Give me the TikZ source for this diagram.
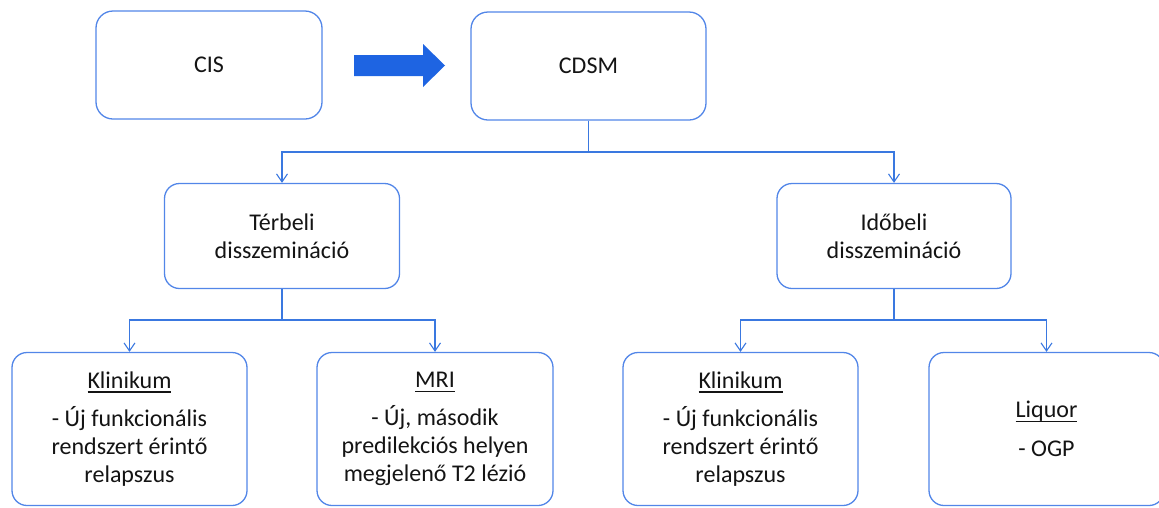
\documentclass[tikz,border=0pt]{standalone}
\usepackage{fontspec}
\setmainfont{Carlito}
\usetikzlibrary{arrows.meta}

\definecolor{boxline}{RGB}{82,134,232}
\definecolor{connline}{RGB}{58,120,224}
\definecolor{bigarrow}{RGB}{30,100,226}
\definecolor{txt}{RGB}{20,20,20}

% underline drawn at a fixed depth below the baseline
\newcommand\headul[1]{\setbox0\hbox{#1}\rlap{\rule[-4.5pt]{\wd0}{1.6pt}}\box0}

\tikzset{
  card/.style={draw=boxline, line width=1.3pt, rounded corners=15pt, fill=white,
    align=center, text=txt, inner sep=0pt,
    font=\fontsize{24}{28}\selectfont},
  conn/.style={draw=connline, line width=1.2pt,
    -{Straight Barb[length=8pt,width=11pt,line width=1.1pt]}}
}

\begin{document}
\begin{tikzpicture}[x=1pt,y=-1pt]
  \useasboundingbox (0,0) rectangle (1159,507);

  % top row
  \node[card, minimum width=226pt, minimum height=108pt, rounded corners=17pt] (cis) at (209,65) {CIS};
  \node[card, minimum width=235pt, minimum height=108pt, rounded corners=17pt] (cdsm) at (588.5,66) {CDSM};

  % block arrow between CIS and CDSM
  \fill[bigarrow] (354,55) -- (423,55) -- (423,44) -- (445,65.5) -- (423,87)
    -- (423,76) -- (354,76) -- cycle;

  % middle row
  \node[card, minimum width=235pt, minimum height=105pt] (terb) at (282,236)
    {Térbeli\\disszemináció};
  \node[card, minimum width=234pt, minimum height=105pt] (idob) at (894,236)
    {Időbeli\\disszemináció};

  % bottom row
  \node[card, minimum width=235pt, minimum height=153pt] (k1) at (129.5,429)
    {\headul{Klinikum}\\[10pt]- Új funkcionális\\rendszert érintő\\relapszus};
  \node[card, minimum width=236pt, minimum height=153pt] (mri) at (435,429)
    {\headul{MRI}\\[10pt]- Új, második\\predilekciós helyen\\megjelenő T2 lézió};
  \node[card, minimum width=235pt, minimum height=153pt] (k2) at (740.5,429)
    {\headul{Klinikum}\\[10pt]- Új funkcionális\\rendszert érintő\\relapszus};
  \node[card, minimum width=235pt, minimum height=153pt] (liq) at (1046.5,429)
    {\headul{Liquor}\\[11pt]- OGP};

  % junction points of the tree connectors
  \coordinate (j0) at (588.5,152);
  \coordinate (j1) at (282,320);
  \coordinate (j2) at (894,320);

  \draw[conn] (cdsm.south) -- (j0) -| (terb.north);
  \draw[conn] (cdsm.south) -- (j0) -| (idob.north);
  \draw[conn] (terb.south) -- (j1) -| (k1.north);
  \draw[conn] (terb.south) -- (j1) -| (mri.north);
  \draw[conn] (idob.south) -- (j2) -| (k2.north);
  \draw[conn] (idob.south) -- (j2) -| (liq.north);
\end{tikzpicture}
\end{document}
